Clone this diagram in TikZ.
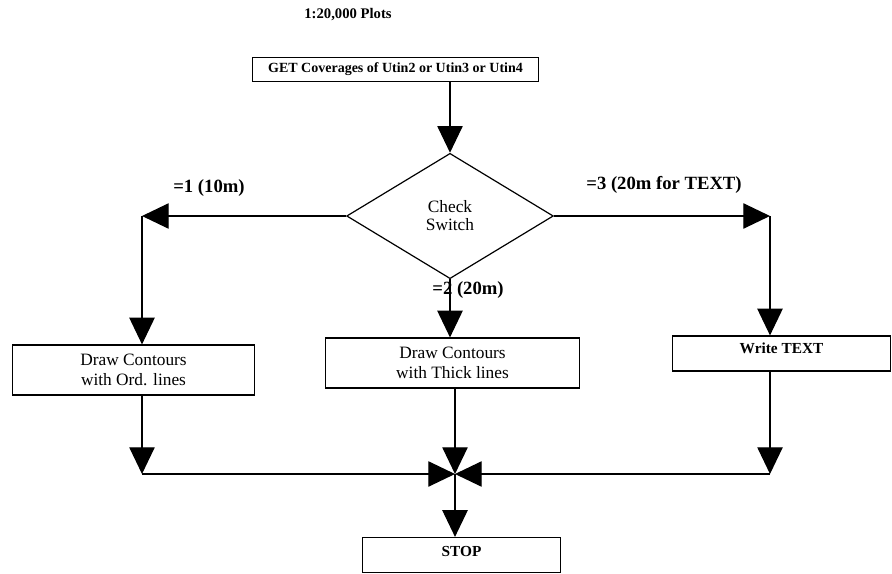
\documentclass[tikz,border=0pt]{standalone}
\usepackage{fontspec}
\setmainfont{Liberation Serif}
\usetikzlibrary{arrows.meta, shapes.geometric}
\tikzset{
  every picture/.style={line width=0.9pt},
  procbox/.style={draw, rectangle, inner sep=0pt, align=center, font=\fontsize{13}{14.5}\selectfont},
  decide/.style={draw, diamond, aspect=1.64, inner sep=0pt, minimum width=155pt, minimum height=94pt,
                 align=center, font=\fontsize{13}{13.5}\selectfont},
  flow/.style={-{Triangle[width=19pt, length=20pt]}},
  caselabel/.style={font=\bfseries\fontsize{14}{16}\selectfont},
  heading/.style={font=\bfseries\fontsize{11}{13}\selectfont},
}

\begin{document}
\begin{tikzpicture}[x=0.75pt, y=-0.75pt]
  \useasboundingbox (0,0) rectangle (892,574);
  \node[heading] (title) at (348,15) {1:20,000 Plots};
  % the boxes of the chart
  \node[procbox, minimum width=214pt, minimum height=18pt, font=\bfseries\fontsize{10.5}{12}\selectfont]
    (get) at (395.5,69.5) {GET Coverages of Utin2 or Utin3 or Utin4};
  \node[decide] (check) at (450,216) {Check\\Switch};
  \node[procbox, minimum width=182pt, minimum height=37.5pt] (ord) at (133.5,370)
    {Draw Contours\\with Ord. lines};
  \node[procbox, minimum width=191pt, minimum height=37.5pt] (thick) at (452.5,363)
    {Draw Contours\\with Thick lines};
  \node[procbox, minimum width=163pt, text height=12.75pt, text depth=13.5pt,
        font=\bfseries\fontsize{11.5}{13}\selectfont] (write) at (781.5,353.5) {Write TEXT};
  \node[procbox, minimum width=148pt, text height=14.25pt, text depth=12pt,
        font=\bfseries\fontsize{11.5}{13}\selectfont] (stop) at (461.5,555) {STOP};
  % bends and the meeting point
  \coordinate (c1) at (142,216);
  \coordinate (c3) at (770,216);
  \coordinate (cl) at (142,474);
  \coordinate (cr) at (770,474);
  \coordinate (join) at (455,474);
  % case labels
  \node[caselabel] (one) at (209,188) {=1 (10m)};
  \node[caselabel] (two) at (468,290) {=2 (20m)};
  \node[caselabel] (three) at (664,185) {=3 (20m for TEXT)};
  % connectors
  \draw[flow] (check.north |- get.south) -- (check.north);
  \draw[flow] (check.west) -- (c1);
  \draw[flow] (c1) -- (c1 |- ord.north);
  \draw[flow] (check.south) -- (check.south |- thick.north);
  \draw[flow] (check.east) -- (c3);
  \draw[flow] (c3) -- (c3 |- write.north);
  \draw[flow] (c1 |- ord.south) -- (cl);
  \draw[flow] (cl) -- (join);
  \draw[flow] (join |- thick.south) -- (join);
  \draw[flow] (c3 |- write.south) -- (cr);
  \draw[flow] (cr) -- (join);
  \draw[flow] (join) -- (join |- stop.north);
\end{tikzpicture}
\end{document}
